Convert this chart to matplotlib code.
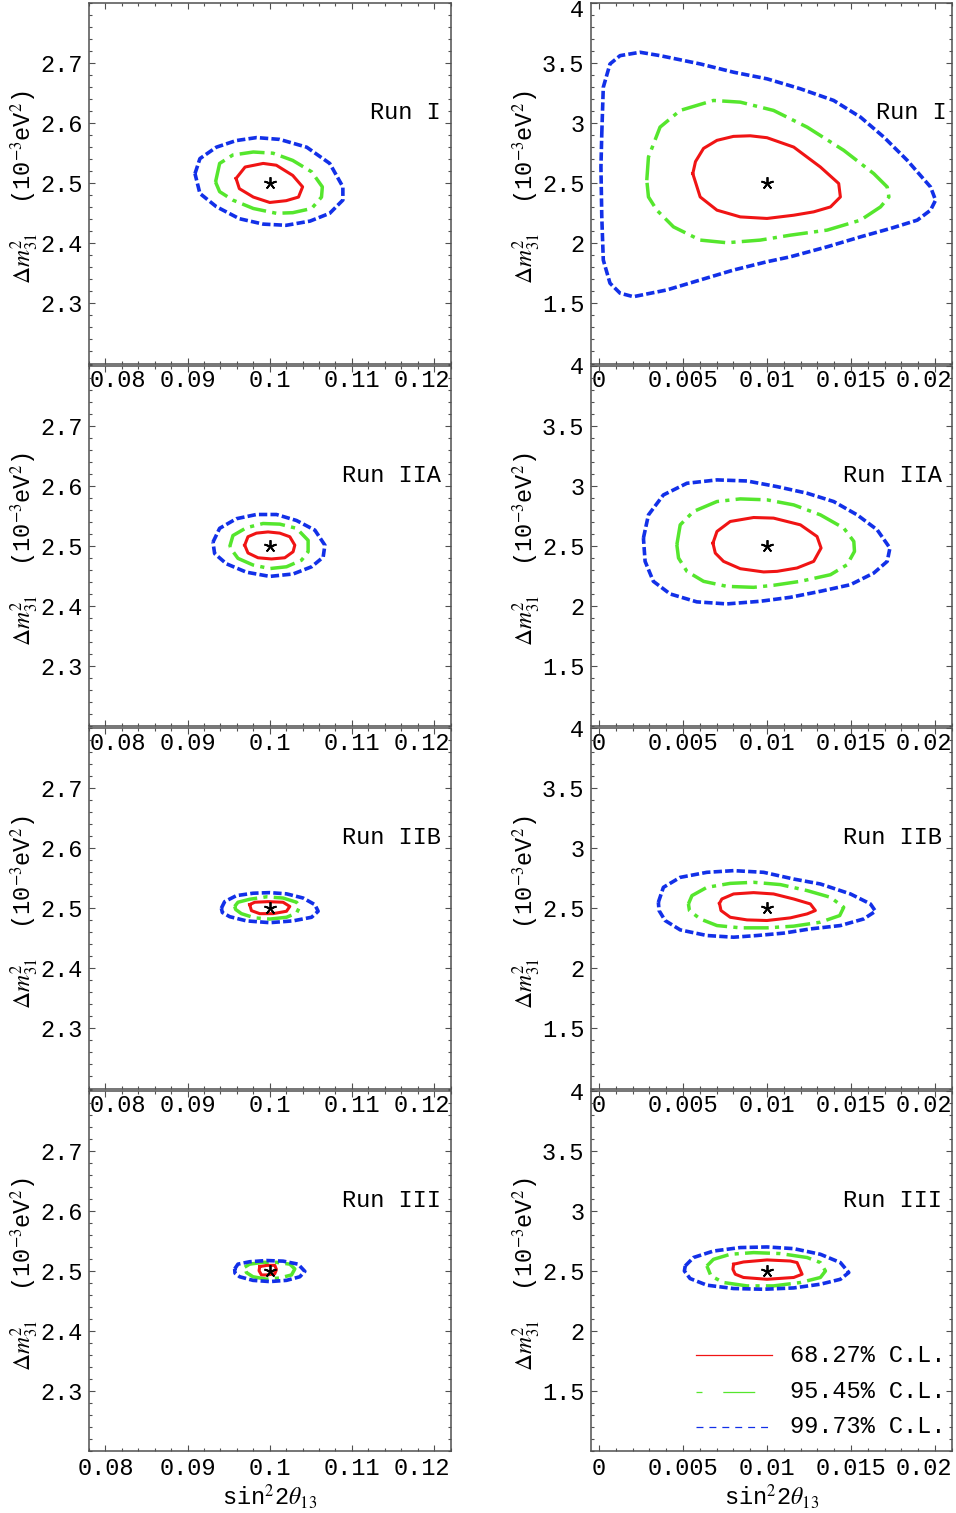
import matplotlib
matplotlib.use('Agg')
import matplotlib.pyplot as plt
import matplotlib.transforms as mtransforms
from matplotlib.ticker import FixedLocator, FixedFormatter, MultipleLocator
from matplotlib.lines import Line2D

plt.rcParams['font.family'] = ['Liberation Mono', 'DejaVu Sans Mono']
plt.rcParams['mathtext.fontset'] = 'stix'
plt.rcParams['lines.scale_dashes'] = False

# ---------------- data ----------------
runs = ['Run I', 'Run IIA', 'Run IIB', 'Run III']
levels = ['68.27% C.L.', '95.45% C.L.', '99.73% C.L.']

best_large_x, best_large_y = [0.1], [2.5]
best_small_x, best_small_y = [0.01], [2.5]

large_xticks = [0.08, 0.09, 0.10, 0.11, 0.12]
large_xlabels = ['0.08', '0.09', '0.1', '0.11', '0.12']
large_yticks = [2.3, 2.4, 2.5, 2.6, 2.7]
large_ylabels = ['2.3', '2.4', '2.5', '2.6', '2.7']
small_xticks = [0.0, 0.005, 0.01, 0.015, 0.02]
small_xlabels = ['0', '0.005', '0.01', '0.015', '0.02']
small_yticks = [1.5, 2.0, 2.5, 3.0, 3.5, 4.0]
small_ylabels = ['1.5', '2', '2.5', '3', '3.5', '4']

# --- Run I, sin^2 2theta13 around 0.1 ---
L1_68_x = [0.0959, 0.0970, 0.0992, 0.1008, 0.1028, 0.1040, 0.1035, 0.1020, 0.1000, 0.0980, 0.0963]
L1_68_y = [2.508, 2.527, 2.533, 2.530, 2.513, 2.494, 2.477, 2.471, 2.468, 2.477, 2.491]
L1_95_x = [0.0934, 0.0939, 0.0955, 0.0980, 0.1004, 0.1028, 0.1051, 0.1064, 0.1063, 0.1051, 0.1028, 0.1008, 0.0980, 0.0955, 0.0939]
L1_95_y = [2.502, 2.533, 2.547, 2.552, 2.550, 2.538, 2.519, 2.494, 2.477, 2.458, 2.451, 2.450, 2.458, 2.472, 2.486]
L1_99_x = [0.0909, 0.0915, 0.0935, 0.0959, 0.0984, 0.1012, 0.1045, 0.1073, 0.1089, 0.1089, 0.1073, 0.1049, 0.1020, 0.0992, 0.0963, 0.0935, 0.0915]
L1_99_y = [2.516, 2.541, 2.560, 2.571, 2.576, 2.573, 2.560, 2.533, 2.494, 2.472, 2.450, 2.437, 2.430, 2.432, 2.441, 2.461, 2.483]

# --- Run I, sin^2 2theta13 around 0.01 ---
R1_68_x = [0.00558, 0.00574, 0.00622, 0.00702, 0.00800, 0.00900, 0.01000, 0.01159, 0.01318, 0.01427, 0.01437, 0.01378, 0.01278, 0.01159, 0.01000, 0.00841, 0.00702, 0.00602]
R1_68_y = [2.580, 2.680, 2.790, 2.857, 2.890, 2.895, 2.879, 2.801, 2.635, 2.498, 2.386, 2.303, 2.262, 2.234, 2.207, 2.220, 2.276, 2.386]
R1_95_x = [0.00284, 0.00294, 0.00363, 0.00483, 0.00681, 0.00841, 0.01039, 0.01239, 0.01457, 0.01636, 0.01716, 0.01726, 0.01676, 0.01557, 0.01358, 0.01139, 0.00960, 0.00761, 0.00602, 0.00443, 0.00344, 0.00294]
R1_95_y = [2.525, 2.718, 2.967, 3.106, 3.189, 3.175, 3.106, 2.967, 2.774, 2.580, 2.469, 2.386, 2.303, 2.193, 2.110, 2.068, 2.027, 2.005, 2.027, 2.137, 2.276, 2.386]
R1_99_x = [0.00016, 0.00025, 0.00065, 0.00125, 0.00244, 0.00363, 0.00602, 0.00801, 0.01000, 0.01199, 0.01397, 0.01557, 0.01696, 0.01835, 0.01974, 0.02004, 0.01974, 0.01895, 0.01736, 0.01557, 0.01358, 0.01139, 0.01000, 0.00801, 0.00602, 0.00403, 0.00204, 0.00125, 0.00065, 0.00025, 0.00016, 0.00011]
R1_99_y = [2.912, 3.299, 3.493, 3.562, 3.590, 3.562, 3.493, 3.424, 3.369, 3.286, 3.189, 3.050, 2.884, 2.691, 2.469, 2.359, 2.276, 2.193, 2.124, 2.054, 1.971, 1.888, 1.847, 1.778, 1.695, 1.612, 1.556, 1.585, 1.668, 1.861, 2.220, 2.635]

# --- Run IIA ---
L2_68_x = [0.09695, 0.09735, 0.09838, 0.09979, 0.10122, 0.10244, 0.10305, 0.10284, 0.10183, 0.10021, 0.09857, 0.09735]
L2_68_y = [2.501, 2.515, 2.521, 2.523, 2.521, 2.515, 2.501, 2.490, 2.480, 2.478, 2.480, 2.488]
L2_95_x = [0.09512, 0.09552, 0.09716, 0.09918, 0.10122, 0.10326, 0.10467, 0.10467, 0.10387, 0.10204, 0.10000, 0.09796, 0.09613]
L2_95_y = [2.498, 2.517, 2.530, 2.537, 2.536, 2.529, 2.509, 2.490, 2.476, 2.465, 2.462, 2.468, 2.479]
L2_99_x = [0.09309, 0.09390, 0.09594, 0.09838, 0.10082, 0.10326, 0.10549, 0.10671, 0.10650, 0.10509, 0.10284, 0.10000, 0.09716, 0.09472, 0.09329]
L2_99_y = [2.506, 2.529, 2.545, 2.552, 2.552, 2.542, 2.526, 2.501, 2.481, 2.465, 2.453, 2.449, 2.456, 2.470, 2.487]

R2_68_x = [0.00678, 0.00702, 0.00781, 0.00920, 0.01039, 0.01199, 0.01298, 0.01322, 0.01278, 0.01179, 0.01060, 0.00980, 0.00841, 0.00741, 0.00692]
R2_68_y = [2.522, 2.619, 2.702, 2.735, 2.730, 2.674, 2.577, 2.481, 2.370, 2.315, 2.287, 2.282, 2.309, 2.370, 2.439]
R2_95_x = [0.00463, 0.00483, 0.00562, 0.00702, 0.00841, 0.01000, 0.01159, 0.01318, 0.01457, 0.01517, 0.01521, 0.01477, 0.01378, 0.01199, 0.01039, 0.00920, 0.00761, 0.00622, 0.00523, 0.00473]
R2_95_y = [2.508, 2.674, 2.785, 2.868, 2.890, 2.882, 2.840, 2.757, 2.647, 2.536, 2.453, 2.342, 2.259, 2.204, 2.171, 2.154, 2.162, 2.204, 2.287, 2.398]
R2_99_x = [0.00264, 0.00294, 0.00383, 0.00523, 0.00702, 0.00881, 0.01060, 0.01239, 0.01397, 0.01537, 0.01656, 0.01732, 0.01716, 0.01636, 0.01497, 0.01318, 0.01139, 0.00960, 0.00761, 0.00582, 0.00423, 0.00323, 0.00274]
R2_99_y = [2.564, 2.757, 2.923, 3.020, 3.048, 3.039, 2.992, 2.937, 2.868, 2.757, 2.633, 2.481, 2.370, 2.273, 2.176, 2.121, 2.071, 2.038, 2.016, 2.033, 2.099, 2.204, 2.370]

# --- Run IIB ---
L3_68_x = [0.09756, 0.09817, 0.09979, 0.10162, 0.10244, 0.10204, 0.10040, 0.09878, 0.09777]
L3_68_y = [2.506, 2.510, 2.511, 2.510, 2.503, 2.495, 2.491, 2.491, 2.496]
L3_95_x = [0.09573, 0.09613, 0.09756, 0.09960, 0.10162, 0.10326, 0.10366, 0.10326, 0.10204, 0.10000, 0.09817, 0.09655, 0.09585]
L3_95_y = [2.503, 2.510, 2.515, 2.519, 2.517, 2.510, 2.503, 2.492, 2.485, 2.482, 2.484, 2.491, 2.498]
L3_99_x = [0.09411, 0.09451, 0.09594, 0.09796, 0.10000, 0.10204, 0.10406, 0.10549, 0.10589, 0.10509, 0.10284, 0.10000, 0.09716, 0.09512, 0.09423]
L3_99_y = [2.500, 2.511, 2.521, 2.525, 2.526, 2.524, 2.517, 2.506, 2.495, 2.485, 2.479, 2.476, 2.479, 2.486, 2.493]

R3_68_x = [0.00717, 0.00731, 0.00801, 0.00920, 0.01039, 0.01159, 0.01258, 0.01288, 0.01239, 0.01139, 0.01000, 0.00881, 0.00781, 0.00726]
R3_68_y = [2.541, 2.577, 2.619, 2.630, 2.619, 2.577, 2.536, 2.481, 2.453, 2.420, 2.398, 2.403, 2.425, 2.481]
R3_95_x = [0.00532, 0.00553, 0.00642, 0.00781, 0.00920, 0.01079, 0.01239, 0.01378, 0.01457, 0.01433, 0.01318, 0.01159, 0.01000, 0.00841, 0.00702, 0.00602, 0.00538]
R3_95_y = [2.536, 2.605, 2.674, 2.707, 2.716, 2.697, 2.647, 2.591, 2.508, 2.439, 2.384, 2.351, 2.337, 2.337, 2.356, 2.411, 2.481]
R3_99_x = [0.00353, 0.00383, 0.00483, 0.00642, 0.00801, 0.00980, 0.01159, 0.01318, 0.01497, 0.01616, 0.01646, 0.01576, 0.01437, 0.01258, 0.01099, 0.00940, 0.00801, 0.00642, 0.00483, 0.00393, 0.00357]
R3_99_y = [2.550, 2.674, 2.757, 2.799, 2.813, 2.799, 2.743, 2.702, 2.619, 2.536, 2.475, 2.411, 2.356, 2.328, 2.293, 2.273, 2.259, 2.273, 2.320, 2.398, 2.481]

# --- Run III ---
L4_68_x = [0.09878, 0.09967, 0.10061, 0.10082, 0.10061, 0.09967, 0.09899, 0.09870]
L4_68_y = [2.507, 2.509, 2.509, 2.502, 2.495, 2.493, 2.493, 2.500]
L4_95_x = [0.09695, 0.09756, 0.09918, 0.10082, 0.10244, 0.10305, 0.10265, 0.10122, 0.09960, 0.09796, 0.09716]
L4_95_y = [2.506, 2.511, 2.514, 2.514, 2.511, 2.503, 2.493, 2.488, 2.486, 2.490, 2.497]
L4_99_x = [0.09573, 0.09613, 0.09756, 0.09960, 0.10162, 0.10345, 0.10427, 0.10366, 0.10204, 0.10000, 0.09796, 0.09634, 0.09577]
L4_99_y = [2.503, 2.511, 2.515, 2.517, 2.516, 2.511, 2.499, 2.490, 2.484, 2.482, 2.484, 2.490, 2.496]

R4_68_x = [0.00801, 0.00860, 0.01000, 0.01139, 0.01179, 0.01209, 0.01159, 0.01000, 0.00860, 0.00811, 0.00797]
R4_68_y = [2.554, 2.573, 2.590, 2.581, 2.568, 2.471, 2.444, 2.429, 2.444, 2.471, 2.512]
R4_95_x = [0.00642, 0.00681, 0.00781, 0.00920, 0.01079, 0.01239, 0.01318, 0.01348, 0.01318, 0.01199, 0.01039, 0.00881, 0.00741, 0.00666]
R4_95_y = [2.540, 2.595, 2.637, 2.651, 2.643, 2.610, 2.568, 2.498, 2.444, 2.402, 2.374, 2.374, 2.402, 2.457]
R4_99_x = [0.00513, 0.00562, 0.00681, 0.00841, 0.01000, 0.01159, 0.01318, 0.01437, 0.01487, 0.01437, 0.01318, 0.01159, 0.00980, 0.00801, 0.00642, 0.00542, 0.00508]
R4_99_y = [2.540, 2.610, 2.664, 2.693, 2.698, 2.684, 2.637, 2.568, 2.485, 2.429, 2.388, 2.357, 2.346, 2.352, 2.380, 2.435, 2.498]

left_contours = [
    [(L1_68_x, L1_68_y), (L1_95_x, L1_95_y), (L1_99_x, L1_99_y)],
    [(L2_68_x, L2_68_y), (L2_95_x, L2_95_y), (L2_99_x, L2_99_y)],
    [(L3_68_x, L3_68_y), (L3_95_x, L3_95_y), (L3_99_x, L3_99_y)],
    [(L4_68_x, L4_68_y), (L4_95_x, L4_95_y), (L4_99_x, L4_99_y)],
]
right_contours = [
    [(R1_68_x, R1_68_y), (R1_95_x, R1_95_y), (R1_99_x, R1_99_y)],
    [(R2_68_x, R2_68_y), (R2_95_x, R2_95_y), (R2_99_x, R2_99_y)],
    [(R3_68_x, R3_68_y), (R3_95_x, R3_95_y), (R3_99_x, R3_99_y)],
    [(R4_68_x, R4_68_y), (R4_95_x, R4_95_y), (R4_99_x, R4_99_y)],
]

# ---------------- styling ----------------
RED, GREEN, BLUE = '#f01414', '#55e62d', '#1230e8'
FRAME = '#505050'
FS = 17
styles = [
    dict(color=RED, lw=2.2, ls='-'),
    dict(color=GREEN, lw=2.5, ls=(0, (18, 4.5, 3, 4.5))),
    dict(color=BLUE, lw=2.6, ls=(0, (6.0, 2.3))),
]
legend_styles = [
    dict(color=RED, lw=0.9, ls='-'),
    dict(color=GREEN, lw=0.9, ls=(0, (4.3, 15, 23, 15))),
    dict(color=BLUE, lw=0.9, ls=(0, (5, 4.3))),
]

W, H = 956, 1513
fig = plt.figure(figsize=(W / 100, H / 100), dpi=100)
fig.patch.set_facecolor('white')

left_x0, left_w = 89 / W, 361.5 / W
right_x0, right_w = 590.7 / W, 361 / W
row_h = 360.5


def shift_label(lab, dx_px, dy_px=0.0):
    off = mtransforms.ScaledTranslation(dx_px / 100, dy_px / 100, fig.dpi_scale_trans)
    lab.set_transform(lab.get_transform() + off)


def style_axes(ax, xticks, xlabels, yticks, ylabels, xminor, yminor):
    ax.patch.set_visible(False)
    ax.xaxis.set_major_locator(FixedLocator(xticks))
    ax.xaxis.set_major_formatter(FixedFormatter(xlabels))
    ax.yaxis.set_major_locator(FixedLocator(yticks))
    ax.yaxis.set_major_formatter(FixedFormatter(ylabels))
    ax.xaxis.set_minor_locator(MultipleLocator(xminor))
    ax.yaxis.set_minor_locator(MultipleLocator(yminor))
    ax.tick_params(which='both', direction='in', top=True, right=True,
                   color=FRAME, width=0.8, labelsize=FS, labelcolor='black')
    ax.tick_params(which='major', length=4.5)
    ax.tick_params(which='minor', length=2.3)
    ax.tick_params(axis='x', pad=4)
    ax.tick_params(axis='y', pad=4.5)
    for sp in ax.spines.values():
        sp.set_color(FRAME)
        sp.set_linewidth(1.1)


ylabel_text = r'$\Delta m^2_{31}$  (10$^{-3}$eV$^2$)'
xlabel_text = r'sin$^2$2$\theta_{13}$'

for i in range(4):
    top = 3 + 362.5 * i
    bottom = top + row_h
    y0 = 1 - bottom / H
    hh = row_h / H
    for side in ('left', 'right'):
        if side == 'left':
            ax = fig.add_axes([left_x0, y0, left_w, hh])
            ax.set_xlim(0.078, 0.122)
            ax.set_ylim(2.2, 2.8)
            style_axes(ax, large_xticks, large_xlabels, large_yticks, large_ylabels, 0.002, 0.02)
            cons = left_contours[i]
            bx, by = best_large_x, best_large_y
            run_x = 0.972
        else:
            ax = fig.add_axes([right_x0, y0, right_w, hh])
            ax.set_xlim(-0.0005, 0.021)
            ax.set_ylim(1.0, 4.0)
            style_axes(ax, small_xticks, small_xlabels, small_yticks, small_ylabels, 0.001, 0.1)
            cons = right_contours[i]
            bx, by = best_small_x, best_small_y
            run_x = 0.986 if i == 0 else 0.974

        for (cx, cy), st in zip(cons, styles):
            ax.plot(list(cx) + [cx[0]], list(cy) + [cy[0]], solid_joinstyle='round',
                    dash_capstyle='butt', **st)
        ax.plot(bx, by, ls='none', marker=(5, 2, 0), ms=9, mew=1.3, color='black')

        ax.text(run_x, 0.695, runs[i], transform=ax.transAxes, ha='right', va='center',
                fontsize=FS)

        ax.set_ylabel(ylabel_text, fontsize=FS, va='center')
        ax.yaxis.set_label_coords(-0.178, 0.49)

        # edge tick labels pushed inward as in the original
        labs = ax.get_xticklabels()
        if side == 'left':
            shift_label(labs[-1], -12)
            if i < 3:
                shift_label(labs[0], 12)
        else:
            shift_label(labs[-1], -11)
            if i == 0:
                shift_label(ax.get_yticklabels()[-1], 0, -5)

        if i == 3:
            ax.set_xlabel(xlabel_text, fontsize=FS, va='center')
            ax.xaxis.set_label_coords(0.5, -0.125)

        if i == 3 and side == 'right':
            rows_y = [0.266, 0.164, 0.067]
            for ry, st, lab in zip(rows_y, legend_styles, levels):
                ax.add_line(Line2D([0.292, 0.501], [ry, ry], transform=ax.transAxes,
                                   dash_capstyle='butt', **st))
                ax.text(0.551, ry, lab, transform=ax.transAxes, ha='left', va='center',
                        fontsize=FS)

fig.savefig('out.png', dpi=100, facecolor='white')
